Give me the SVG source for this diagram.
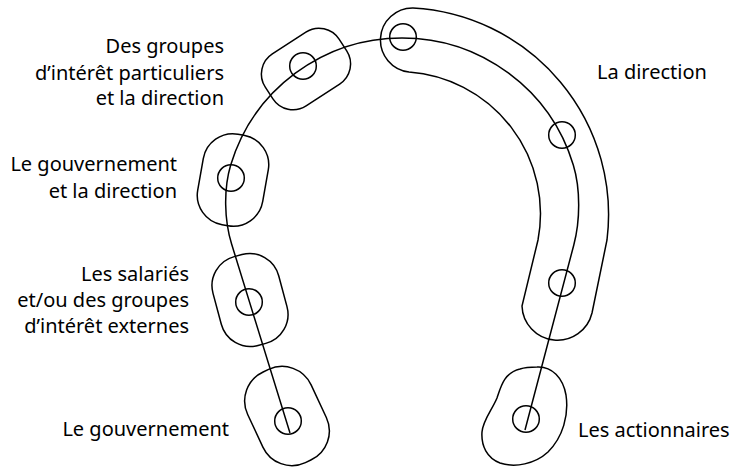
<svg xmlns="http://www.w3.org/2000/svg" width="733" height="470" viewBox="0 0 733 470">
<style>
.s{fill:none;stroke:#000;stroke-width:1.5}
.t{font-family:"Noto Sans","Liberation Sans",sans-serif;font-size:20px;fill:#000}
.e{text-anchor:end}
</style>
<rect width="733" height="470" fill="#fff"/>
<g id="connectors">
<path class="s" d="M290,433 L231.6,244 C224.2,220.1 223.5,188.9 230.7,165 A179 179 0 0 1 573.3,165 C580.6,188.9 580.2,220.8 573.8,245 L525,430"/>
</g>
<g id="direction">
<path class="s" d="M413,8 A207 207 0 0 1 607,240 L592,313 A35.5 35.5 0 0 1 522,306 L538,240 A142 142 0 0 0 409,72 A32.1 32.1 0 0 1 413,8 Z"/>
<circle class="s" cx="403" cy="37" r="13.3"/>
<circle class="s" cx="562" cy="135" r="13.3"/>
<circle class="s" cx="562" cy="283" r="13.3"/>
<text class="t" x="597" y="79">La direction</text>
</g>
<g id="groupes-interet">
<rect class="s" x="-44" y="-31" width="88" height="62" rx="24" transform="translate(306,69) rotate(-33)"/>
<circle class="s" cx="303" cy="66" r="13.3"/>
<text class="t e" x="224" y="53">Des groupes</text>
<text class="t e" x="224" y="80">d’intérêt particuliers</text>
<text class="t e" x="224" y="105">et la direction</text>
</g>
<g id="gouvernement-direction">
<rect class="s" x="-33" y="-46" width="66" height="92" rx="30" transform="translate(233,180) rotate(10)"/>
<circle class="s" cx="231" cy="178" r="13.3"/>
<text class="t e" x="177" y="171">Le gouvernement</text>
<text class="t e" x="177" y="198">et la direction</text>
</g>
<g id="salaries">
<rect class="s" x="-34" y="-46" width="68" height="92" rx="30" transform="translate(250,300) rotate(-15)"/>
<circle class="s" cx="249" cy="302" r="13.3"/>
<text class="t e" x="189" y="281">Les salariés</text>
<text class="t e" x="189" y="307">et/ou des groupes</text>
<text class="t e" x="189" y="333">d’intérêt externes</text>
</g>
<g id="gouvernement">
<rect class="s" x="-35" y="-50" width="70" height="100" rx="32" transform="translate(287,416) rotate(-25)"/>
<circle class="s" cx="288" cy="421" r="13.3"/>
<text class="t e" x="229" y="436">Le gouvernement</text>
</g>
<g id="actionnaires">
<path class="s" d="M537,367 C552,366 563,378 566,395 C569,415 563,437 548,452 C535,464 515,468 500,463 C487,458 481,446 482,432 C483,420 492,410 497,398 C501,386 504,373 520,369 C526,367 531,367 537,367 Z"/>
<circle class="s" cx="526" cy="419" r="13.3"/>
<text class="t" x="578" y="437">Les actionnaires</text>
</g>
</svg>
